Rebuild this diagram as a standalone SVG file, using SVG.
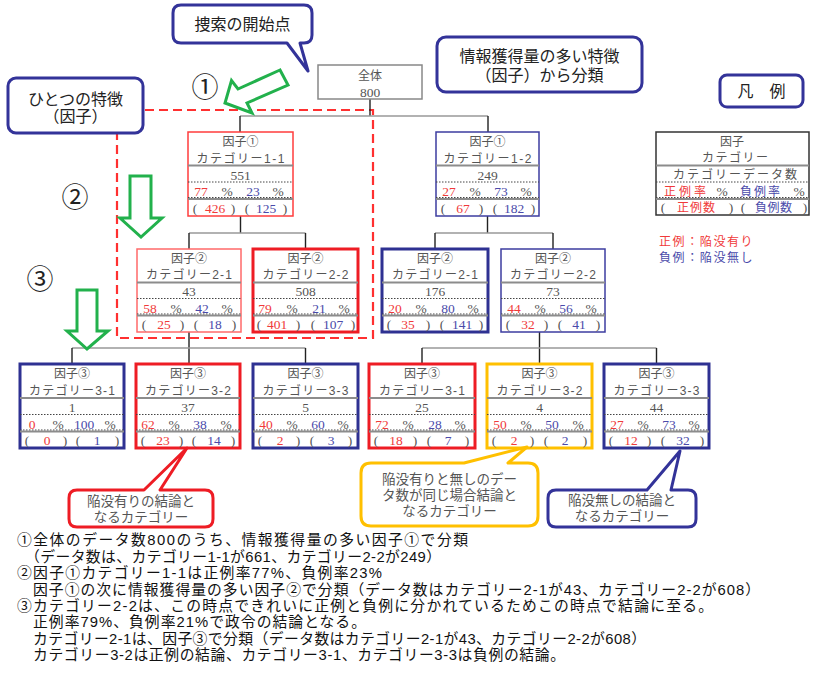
<svg xmlns="http://www.w3.org/2000/svg" width="813" height="684" viewBox="0 0 813 684">
<style>
.nt{font-family:"Liberation Serif","Noto Sans CJK JP",serif;font-size:13.5px;fill:#555;text-anchor:middle;dominant-baseline:central}
.jt{font-family:"Liberation Sans","Noto Sans CJK JP",sans-serif;font-size:12px;fill:#555;text-anchor:middle;dominant-baseline:central}
.r{fill:#f03a3a}
.b{fill:#4a4aaa}
.box{fill:#fff}
.red1{stroke:#ff3c3c;stroke-width:1.5}
.red1l{stroke:#ff6a6a;stroke-width:1.5}
.red3{stroke:#ee1c24;stroke-width:3}
.blu1{stroke:#3c3ca0;stroke-width:1.5}
.blu3{stroke:#2e3192;stroke-width:3}
.yel3{stroke:#ffc000;stroke-width:3}
.hl{stroke:#8c8c8c;stroke-width:2}
.dot{stroke:#444;stroke-width:1;stroke-dasharray:1.5 1.5}
.ch{stroke:#999;stroke-width:1.6;fill:none}
.cv{stroke:#222;stroke-width:1.4;fill:none}
.call{fill:#fff;stroke:#333399;stroke-width:3;stroke-linejoin:round}
.ct{font-family:"Liberation Sans","Noto Sans CJK JP",sans-serif;font-size:16px;fill:#222;text-anchor:middle;dominant-baseline:central}
.cs{font-family:"Liberation Sans","Noto Sans CJK JP",sans-serif;font-size:13.5px;fill:#555;text-anchor:middle;dominant-baseline:central}
.bt{font-family:"Liberation Sans","Noto Sans CJK JP",sans-serif;font-size:14.8px;fill:#111;dominant-baseline:central}
.num{font-family:"Liberation Sans","Noto Sans CJK JP",sans-serif;font-size:27px;fill:#222;text-anchor:middle;dominant-baseline:central}
.arr{fill:#fff;stroke:#22b14c;stroke-width:3;stroke-linejoin:miter}
.lg{font-family:"Liberation Sans","Noto Sans CJK JP",sans-serif;font-size:12px;dominant-baseline:central;letter-spacing:1.6px}
</style>

<rect width="813" height="684" fill="#fff"/>

<!-- red dashed region -->
<rect id="region" x="117" y="110" width="256" height="228" fill="none" stroke="#ff3030" stroke-width="2.2" stroke-dasharray="9 5"/>

<!-- connectors -->
<g id="connectors">
<path class="cv" d="M370,99V116"/>
<path class="ch" d="M240,116H488"/>
<path class="cv" d="M240,116V132M488,116V132"/>
<path class="cv" d="M240.5,216V233M487.5,216V233"/>
<path class="ch" d="M189,233H305.5M435,233H553"/>
<path class="cv" d="M189,233V249M305.5,233V249M435,233V249M553,233V249"/>
<path class="cv" d="M189,332V364M539.5,332V364"/>
<path class="ch" d="M72,348H305.5M422,348H656.5"/>
<path class="cv" d="M72,348V364M305.5,348V364M422,348V364M656.5,348V364"/>
</g>

<!-- root -->
<g id="root">
<rect x="318" y="65" width="104" height="34" class="box" stroke="#888" stroke-width="1.5"/>
<text class="jt" x="370" y="75.5" font-size="12.5">全体</text>
<text class="nt" x="370" y="92">800</text>
</g>

<!-- row 1 -->
<g id="n1-1">
<rect x="188" y="132" width="105" height="84" class="box red1"/>
<line x1="188" x2="293" y1="165.5" y2="165.5" class="hl"/>
<line x1="188" x2="293" y1="182" y2="182" class="dot"/>
<line x1="188" x2="293" y1="197.5" y2="197.5" class="dot"/>
<line x1="188" x2="293" y1="199" y2="199" class="hl"/>
<text class="jt" x="240.5" y="142" font-size="13.5">因子①</text>
<text class="jt" x="240.5" y="158.5" textLength="88">カテゴリー1-1</text>
<text class="nt" x="240.5" y="175">551</text>
<text class="nt r" x="201" y="191.5">77</text><text class="nt" x="227" y="191.5">%</text><text class="nt b" x="253" y="191.5">23</text><text class="nt" x="278" y="191.5">%</text>
<text class="nt" x="195" y="208">(</text><text class="nt r" x="215" y="208">426</text><text class="nt" x="233" y="208">)</text><text class="nt" x="247" y="208">(</text><text class="nt b" x="266" y="208">125</text><text class="nt" x="285" y="208">)</text>
</g>

<g id="n1-2">
<rect x="436" y="132" width="103" height="84" class="box blu1"/>
<line x1="436" x2="539" y1="165.5" y2="165.5" class="hl"/>
<line x1="436" x2="539" y1="182" y2="182" class="dot"/>
<line x1="436" x2="539" y1="197.5" y2="197.5" class="dot"/>
<line x1="436" x2="539" y1="199" y2="199" class="hl"/>
<text class="jt" x="487.5" y="142" font-size="13.5">因子①</text>
<text class="jt" x="487.5" y="158.5" textLength="88">カテゴリー1-2</text>
<text class="nt" x="487.5" y="175">249</text>
<text class="nt r" x="449" y="191.5">27</text><text class="nt" x="475" y="191.5">%</text><text class="nt b" x="501" y="191.5">73</text><text class="nt" x="526" y="191.5">%</text>
<text class="nt" x="443" y="208">(</text><text class="nt r" x="463" y="208">67</text><text class="nt" x="481" y="208">)</text><text class="nt" x="495" y="208">(</text><text class="nt b" x="514" y="208">182</text><text class="nt" x="533" y="208">)</text>
</g>

<!-- row 2 -->
<g id="n2-1a">
<rect x="137" y="249" width="104" height="83" class="box red1l"/>
<line x1="137" x2="241" y1="282.5" y2="282.5" class="hl"/>
<line x1="137" x2="241" y1="298.5" y2="298.5" class="dot"/>
<line x1="137" x2="241" y1="314" y2="314" class="dot"/>
<line x1="137" x2="241" y1="315.5" y2="315.5" class="hl"/>
<text class="jt" x="189" y="258.5" font-size="13.5">因子②</text>
<text class="jt" x="189" y="275" textLength="86">カテゴリー2-1</text>
<text class="nt" x="189" y="291.5">43</text>
<text class="nt r" x="150" y="308">58</text><text class="nt" x="176" y="308">%</text><text class="nt b" x="202" y="308">42</text><text class="nt" x="227" y="308">%</text>
<text class="nt" x="144" y="324.5">(</text><text class="nt r" x="164" y="324.5">25</text><text class="nt" x="182" y="324.5">)</text><text class="nt" x="196" y="324.5">(</text><text class="nt b" x="215" y="324.5">18</text><text class="nt" x="234" y="324.5">)</text>
</g>

<g id="n2-2a">
<rect x="253" y="249" width="105" height="83" class="box red3"/>
<line x1="253" x2="358" y1="282.5" y2="282.5" class="hl"/>
<line x1="253" x2="358" y1="298.5" y2="298.5" class="dot"/>
<line x1="253" x2="358" y1="314" y2="314" class="dot"/>
<line x1="253" x2="358" y1="315.5" y2="315.5" class="hl"/>
<text class="jt" x="305.5" y="258.5" font-size="13.5">因子②</text>
<text class="jt" x="305.5" y="275" textLength="86">カテゴリー2-2</text>
<text class="nt" x="305.5" y="291.5">508</text>
<text class="nt r" x="265" y="308">79</text><text class="nt" x="292" y="308">%</text><text class="nt b" x="319" y="308">21</text><text class="nt" x="344" y="308">%</text>
<text class="nt" x="259" y="324.5">(</text><text class="nt r" x="277" y="324.5">401</text><text class="nt" x="298" y="324.5">)</text><text class="nt" x="313" y="324.5">(</text><text class="nt b" x="333" y="324.5">107</text><text class="nt" x="353" y="324.5">)</text>
</g>

<g id="n2-1b">
<rect x="382" y="249" width="106" height="83" class="box blu3"/>
<line x1="382" x2="488" y1="282.5" y2="282.5" class="hl"/>
<line x1="382" x2="488" y1="298.5" y2="298.5" class="dot"/>
<line x1="382" x2="488" y1="314" y2="314" class="dot"/>
<line x1="382" x2="488" y1="315.5" y2="315.5" class="hl"/>
<text class="jt" x="435" y="258.5" font-size="13.5">因子②</text>
<text class="jt" x="435" y="275" textLength="86">カテゴリー2-1</text>
<text class="nt" x="435" y="291.5">176</text>
<text class="nt r" x="395" y="308">20</text><text class="nt" x="421" y="308">%</text><text class="nt b" x="448" y="308">80</text><text class="nt" x="473" y="308">%</text>
<text class="nt" x="389" y="324.5">(</text><text class="nt r" x="408" y="324.5">35</text><text class="nt" x="428" y="324.5">)</text><text class="nt" x="442" y="324.5">(</text><text class="nt b" x="462" y="324.5">141</text><text class="nt" x="481" y="324.5">)</text>
</g>

<g id="n2-2b">
<rect x="501" y="249" width="104" height="83" class="box blu1"/>
<line x1="501" x2="605" y1="282.5" y2="282.5" class="hl"/>
<line x1="501" x2="605" y1="298.5" y2="298.5" class="dot"/>
<line x1="501" x2="605" y1="314" y2="314" class="dot"/>
<line x1="501" x2="605" y1="315.5" y2="315.5" class="hl"/>
<text class="jt" x="553" y="258.5" font-size="13.5">因子②</text>
<text class="jt" x="553" y="275" textLength="86">カテゴリー2-2</text>
<text class="nt" x="553" y="291.5">73</text>
<text class="nt r" x="514" y="308">44</text><text class="nt" x="540" y="308">%</text><text class="nt b" x="566" y="308">56</text><text class="nt" x="591" y="308">%</text>
<text class="nt" x="508" y="324.5">(</text><text class="nt r" x="528" y="324.5">32</text><text class="nt" x="546" y="324.5">)</text><text class="nt" x="560" y="324.5">(</text><text class="nt b" x="579" y="324.5">41</text><text class="nt" x="598" y="324.5">)</text>
</g>

<!-- row 3 -->
<g id="n3-1a">
<rect x="20" y="364" width="104" height="84" class="box blu3"/>
<line x1="20" x2="124" y1="398" y2="398" class="hl"/>
<line x1="20" x2="124" y1="414.5" y2="414.5" class="dot"/>
<line x1="20" x2="124" y1="430" y2="430" class="dot"/>
<line x1="20" x2="124" y1="431.5" y2="431.5" class="hl"/>
<text class="jt" x="72" y="374" font-size="13.5">因子③</text>
<text class="jt" x="72" y="390.5" textLength="86">カテゴリー3-1</text>
<text class="nt" x="72" y="407">1</text>
<text class="nt r" x="32" y="424">0</text><text class="nt" x="58" y="424">%</text><text class="nt b" x="84" y="424">100</text><text class="nt" x="110" y="424">%</text>
<text class="nt" x="27" y="440.5">(</text><text class="nt r" x="47" y="440.5">0</text><text class="nt" x="65" y="440.5">)</text><text class="nt" x="78" y="440.5">(</text><text class="nt b" x="97" y="440.5">1</text><text class="nt" x="117" y="440.5">)</text>
</g>

<g id="n3-2a">
<rect x="136" y="364" width="104" height="84" class="box red3"/>
<line x1="136" x2="240" y1="398" y2="398" class="hl"/>
<line x1="136" x2="240" y1="414.5" y2="414.5" class="dot"/>
<line x1="136" x2="240" y1="430" y2="430" class="dot"/>
<line x1="136" x2="240" y1="431.5" y2="431.5" class="hl"/>
<text class="jt" x="188" y="374" font-size="13.5">因子③</text>
<text class="jt" x="188" y="390.5" textLength="86">カテゴリー3-2</text>
<text class="nt" x="188" y="407">37</text>
<text class="nt r" x="148" y="424">62</text><text class="nt" x="174" y="424">%</text><text class="nt b" x="200" y="424">38</text><text class="nt" x="226" y="424">%</text>
<text class="nt" x="143" y="440.5">(</text><text class="nt r" x="163" y="440.5">23</text><text class="nt" x="181" y="440.5">)</text><text class="nt" x="194" y="440.5">(</text><text class="nt b" x="214" y="440.5">14</text><text class="nt" x="233" y="440.5">)</text>
</g>

<g id="n3-3a">
<rect x="253" y="364" width="105" height="84" class="box blu3"/>
<line x1="253" x2="358" y1="398" y2="398" class="hl"/>
<line x1="253" x2="358" y1="414.5" y2="414.5" class="dot"/>
<line x1="253" x2="358" y1="430" y2="430" class="dot"/>
<line x1="253" x2="358" y1="431.5" y2="431.5" class="hl"/>
<text class="jt" x="305.5" y="374" font-size="13.5">因子③</text>
<text class="jt" x="305.5" y="390.5" textLength="86">カテゴリー3-3</text>
<text class="nt" x="305.5" y="407">5</text>
<text class="nt r" x="266" y="424">40</text><text class="nt" x="292" y="424">%</text><text class="nt b" x="318" y="424">60</text><text class="nt" x="343" y="424">%</text>
<text class="nt" x="260" y="440.5">(</text><text class="nt r" x="280" y="440.5">2</text><text class="nt" x="298" y="440.5">)</text><text class="nt" x="312" y="440.5">(</text><text class="nt b" x="331" y="440.5">3</text><text class="nt" x="350" y="440.5">)</text>
</g>

<g id="n3-1b">
<rect x="369" y="364" width="106" height="84" class="box red3"/>
<line x1="369" x2="475" y1="398" y2="398" class="hl"/>
<line x1="369" x2="475" y1="414.5" y2="414.5" class="dot"/>
<line x1="369" x2="475" y1="430" y2="430" class="dot"/>
<line x1="369" x2="475" y1="431.5" y2="431.5" class="hl"/>
<text class="jt" x="422" y="374" font-size="13.5">因子③</text>
<text class="jt" x="422" y="390.5" textLength="86">カテゴリー3-1</text>
<text class="nt" x="422" y="407">25</text>
<text class="nt r" x="382" y="424">72</text><text class="nt" x="408" y="424">%</text><text class="nt b" x="435" y="424">28</text><text class="nt" x="460" y="424">%</text>
<text class="nt" x="376" y="440.5">(</text><text class="nt r" x="396" y="440.5">18</text><text class="nt" x="415" y="440.5">)</text><text class="nt" x="429" y="440.5">(</text><text class="nt b" x="448" y="440.5">7</text><text class="nt" x="467" y="440.5">)</text>
</g>

<g id="n3-2b">
<rect x="487" y="364" width="105" height="84" class="box yel3"/>
<line x1="487" x2="592" y1="398" y2="398" class="hl"/>
<line x1="487" x2="592" y1="414.5" y2="414.5" class="dot"/>
<line x1="487" x2="592" y1="430" y2="430" class="dot"/>
<line x1="487" x2="592" y1="431.5" y2="431.5" class="hl"/>
<text class="jt" x="539.5" y="374" font-size="13.5">因子③</text>
<text class="jt" x="539.5" y="390.5" textLength="86">カテゴリー3-2</text>
<text class="nt" x="539.5" y="407">4</text>
<text class="nt r" x="500" y="424">50</text><text class="nt" x="526" y="424">%</text><text class="nt b" x="552" y="424">50</text><text class="nt" x="578" y="424">%</text>
<text class="nt" x="494" y="440.5">(</text><text class="nt r" x="514" y="440.5">2</text><text class="nt" x="532" y="440.5">)</text><text class="nt" x="546" y="440.5">(</text><text class="nt b" x="565" y="440.5">2</text><text class="nt" x="585" y="440.5">)</text>
</g>

<g id="n3-3b">
<rect x="604" y="364" width="105" height="84" class="box blu3"/>
<line x1="604" x2="709" y1="398" y2="398" class="hl"/>
<line x1="604" x2="709" y1="414.5" y2="414.5" class="dot"/>
<line x1="604" x2="709" y1="430" y2="430" class="dot"/>
<line x1="604" x2="709" y1="431.5" y2="431.5" class="hl"/>
<text class="jt" x="656.5" y="374" font-size="13.5">因子③</text>
<text class="jt" x="656.5" y="390.5" textLength="86">カテゴリー3-3</text>
<text class="nt" x="656.5" y="407">44</text>
<text class="nt r" x="617" y="424">27</text><text class="nt" x="643" y="424">%</text><text class="nt b" x="669" y="424">73</text><text class="nt" x="694" y="424">%</text>
<text class="nt" x="611" y="440.5">(</text><text class="nt r" x="631" y="440.5">12</text><text class="nt" x="649" y="440.5">)</text><text class="nt" x="663" y="440.5">(</text><text class="nt b" x="683" y="440.5">32</text><text class="nt" x="702" y="440.5">)</text>
</g>

<!-- legend -->
<g id="legend">
<rect x="656" y="132" width="153" height="83" class="box" stroke="#333" stroke-width="1.5"/>
<line x1="656" x2="809" y1="165.5" y2="165.5" class="hl"/>
<line x1="656" x2="809" y1="182" y2="182" class="dot"/>
<line x1="656" x2="809" y1="197.5" y2="197.5" class="dot"/>
<line x1="656" x2="809" y1="199" y2="199" class="hl"/>
<text class="jt" x="732" y="141.5" font-size="13">因子</text>
<text class="jt" x="735" y="158" textLength="66">カテゴリー</text>
<text class="jt" x="735" y="175" textLength="124">カテゴリーデータ数</text>
<text class="jt r" x="685" y="191.5" textLength="42">正例率</text><text class="nt" x="722" y="191.5">%</text><text class="jt b" x="760" y="191.5" textLength="40">負例率</text><text class="nt" x="799" y="191.5">%</text>
<text class="nt" x="663" y="207.5">(</text><text class="jt r" x="696" y="207.5" textLength="38">正例数</text><text class="nt" x="731" y="207.5">)</text><text class="nt" x="743" y="207.5">(</text><text class="jt b" x="773.5" y="207.5" textLength="37">負例数</text><text class="nt" x="805" y="207.5">)</text>
<text class="lg r" x="659" y="242">正例：陥没有り</text>
<text class="lg b" x="659" y="258">負例：陥没無し</text>
</g>

<!-- callouts -->
<g id="callout-start">
<path class="call" d="M181,5H304Q312,5 312,13V35Q312,43 304,43H300L308,71L287,43H181Q173,43 173,35V13Q173,5 181,5Z"/>
<text class="ct" x="242.5" y="24" font-size="16.5">捜索の開始点</text>
</g>
<g id="callout-feature">
<rect class="call" x="8" y="78" width="135" height="55" rx="8"/>
<text class="ct" x="75.5" y="99" font-size="15.5">ひとつの特徴</text>
<text class="ct" x="75.5" y="116.5" font-size="15.5">（因子）</text>
</g>
<g id="callout-info">
<rect class="call" x="437" y="37" width="205" height="55" rx="9"/>
<text class="ct" x="539.5" y="56.5" font-size="16.5">情報獲得量の多い特徴</text>
<text class="ct" x="539.5" y="75" font-size="16.5">（因子）から分類</text>
</g>
<g id="callout-legend">
<rect class="call" x="720" y="75" width="83" height="32" rx="7"/>
<text class="ct" x="761.5" y="91.5" font-size="17">凡　例</text>
</g>
<g id="callout-pos">
<path class="call" style="stroke:#ee1c24" d="M77,490H144L187,448L160,490H205Q213,490 213,498V519Q213,527 205,527H77Q69,527 69,519V498Q69,490 77,490Z"/>
<text class="cs" x="141" y="501">陥没有りの結論と</text>
<text class="cs" x="141" y="517">なるカテゴリー</text>
</g>
<g id="callout-tie">
<path class="call" style="stroke:#ffc000" d="M371,463H464L527,447L508,463H528Q538,463 538,473V516Q538,526 528,526H371Q361,526 361,516V473Q361,463 371,463Z"/>
<text class="cs" x="449.5" y="479.5">陥没有りと無しのデー</text>
<text class="cs" x="449.5" y="495.5">タ数が同じ場合結論と</text>
<text class="cs" x="449.5" y="511.5">なるカテゴリー</text>
</g>
<g id="callout-neg">
<path class="call" d="M556,490H647L680,451L671,490H688Q696,490 696,498V519Q696,527 688,527H556Q548,527 548,519V498Q548,490 556,490Z"/>
<text class="cs" x="622" y="500.5">陥没無しの結論と</text>
<text class="cs" x="622" y="516.5">なるカテゴリー</text>
</g>

<!-- green arrows and step numbers -->
<g id="steps">
<polygon class="arr" points="280,70 238,89 231.5,80.5 225,103 252,113 247,103 288,85"/>
<polygon class="arr" points="130,176 151,176 151,218 162,218 141,237 120,218 130,218"/>
<polygon class="arr" points="77,290 97,290 97,331 108,331 87,349 67,331 77,331"/>
<text class="num" x="205" y="88">①</text>
<text class="num" x="75" y="198">②</text>
<text class="num" x="40" y="280">③</text>
</g>

<!-- notes -->
<g id="notes">
<text class="bt" x="17" y="540" textLength="451">①全体のデータ数800のうち、情報獲得量の多い因子①で分類</text>
<text class="bt" x="25" y="557" textLength="416">（データ数は、カテゴリー1-1が661、カテゴリー2-2が249）</text>
<text class="bt" x="17" y="572.5" textLength="365">②因子①カテゴリー1-1は正例率77%、負例率23%</text>
<text class="bt" x="33" y="589.5" textLength="727">因子①の次に情報獲得量の多い因子②で分類（データ数はカテゴリー2-1が43、カテゴリー2-2が608）</text>
<text class="bt" x="17" y="605.5" textLength="696">③カテゴリー2-2は、この時点できれいに正例と負例に分かれているためこの時点で結論に至る。</text>
<text class="bt" x="33" y="622" textLength="333">正例率79%、負例率21%で政令の結論となる。</text>
<text class="bt" x="33" y="638.5" textLength="613">カテゴリー2-1は、因子③で分類（データ数はカテゴリー2-1が43、カテゴリー2-2が608）</text>
<text class="bt" x="33" y="655" textLength="532">カテゴリー3-2は正例の結論、カテゴリー3-1、カテゴリー3-3は負例の結論。</text>
</g>
</svg>
